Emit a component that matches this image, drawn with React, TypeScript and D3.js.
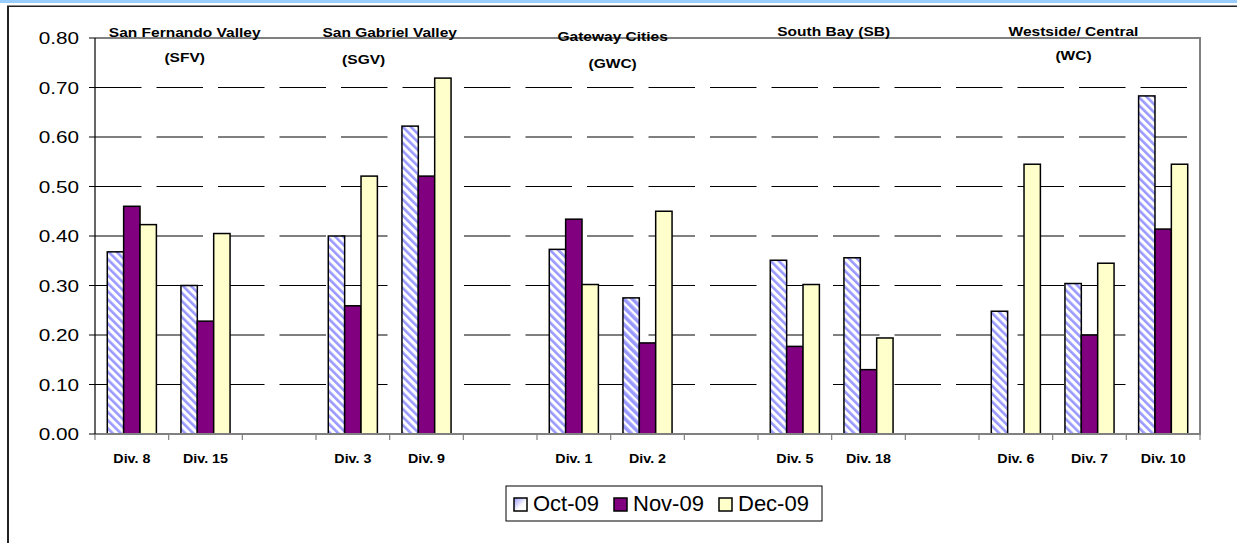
import React from "react";
import * as d3 from "d3";

const slotLabels = ["Div. 8", "Div. 15", "", "Div. 3", "Div. 9", "", "Div. 1", "Div. 2", "", "Div. 5", "Div. 18", "", "Div. 6", "Div. 7", "Div. 10"];
const seriesNames = ["Oct-09", "Nov-09", "Dec-09"];
const octValues = [0.368, 0.30, null, 0.40, 0.622, null, 0.373, 0.275, null, 0.351, 0.356, null, 0.248, 0.304, 0.683];
const novValues = [0.46, 0.228, null, 0.259, 0.521, null, 0.434, 0.184, null, 0.177, 0.13, null, null, 0.20, 0.414];
const decValues = [0.423, 0.405, null, 0.521, 0.719, null, 0.302, 0.45, null, 0.302, 0.194, null, 0.545, 0.345, 0.545];
const yTicks = [0, 0.1, 0.2, 0.3, 0.4, 0.5, 0.6, 0.7, 0.8];
const regionLines = [
  { lines: ["San Fernando Valley", "(SFV)"], slots: [0, 1] },
  { lines: ["San Gabriel Valley", "(SGV)"], slots: [3, 4] },
  { lines: ["Gateway Cities", "(GWC)"], slots: [6, 7] },
  { lines: ["South Bay (SB)"], slots: [9, 10] },
  { lines: ["Westside/ Central", "(WC)"], slots: [12, 14] },
];
const altPatternSlots = ["Div. 2"];

const W = 1237, H = 543;
const plot = { left: 95, right: 1200, top: 38, bottom: 434 };
const colors = ["url(#hatch)", "#800080", "#FFFFCC"];
// per-region label fine placement [dx1, y1, dx2, y2]
const regionPlacement = [
  [16, 36.5, 16, 62],
  [0, 37, -26, 64],
  [2, 40.5, 2, 68],
  [2, 36, 0, 0],
  [-16, 36, -16, 60],
];

export default function App() {
  const idx = slotLabels.map((_, i) => String(i));
  const x = d3.scaleBand<string>().domain(idx).range([plot.left, plot.right]).paddingInner(0).paddingOuter(0);
  const xs = d3.scaleBand<string>().domain(seriesNames).range([0, x.bandwidth()]).paddingInner(0).paddingOuter(0.75);
  const y = d3.scaleLinear().domain([0, 0.8]).range([plot.bottom, plot.top]);
  const fmt = d3.format(".2f");
  const series = [octValues, novValues, decValues];
  const gridStart = plot.left;

  return (
    <svg width={W} height={H} style={{ position: "absolute", left: 0, top: 0, background: "#fff" }} fontFamily="'Liberation Sans', Arial, sans-serif">
      <defs>
        <pattern id="hatch" patternUnits="userSpaceOnUse" width="5.7" height="5.7" patternTransform="rotate(-45)">
          <rect width="5.7" height="5.7" fill="#fff" />
          <rect width="2.6" height="5.7" fill="#9999FF" />
        </pattern>
        <pattern id="hatch2" patternUnits="userSpaceOnUse" width="6" height="6" patternTransform="rotate(-45)">
          <rect width="6" height="6" fill="#fff" />
          <rect width="3.6" height="6" fill="#9999FF" />
        </pattern>
        <linearGradient id="legGrad" x1="0" y1="0" x2="1" y2="1">
          <stop offset="0" stopColor="#9999FF" />
          <stop offset="0.6" stopColor="#fff" />
          <stop offset="1" stopColor="#fff" />
        </linearGradient>
      </defs>
      {/* frame */}
      <rect x={0} y={0} width={W} height={3} fill="#99CCFF" />
      <line x1={7} x2={W} y1={6.3} y2={6.3} stroke="#222" strokeWidth={1.5} />
      <line x1={8} x2={8} y1={6} y2={H} stroke="#222" strokeWidth={2} />

      {/* gridlines */}
      {yTicks.filter(t => t > 0 && t < 0.8).map(t => (
        <line key={"g" + t} x1={gridStart} x2={plot.right} y1={y(t)} y2={y(t)} stroke="#000" strokeWidth={1} strokeDasharray="46.5 15" />
      ))}

      {/* plot border top/right */}
      <line x1={plot.left} x2={plot.right + 1} y1={plot.top} y2={plot.top} stroke="#808080" strokeWidth={2} />
      <line x1={plot.right} x2={plot.right} y1={plot.top} y2={plot.bottom} stroke="#808080" strokeWidth={2} />

      {/* bars */}
      {series.map((vals, s) =>
        vals.map((v, i) => {
          if (v == null) return null;
          const bx = (x(String(i)) as number) + (xs(seriesNames[s]) as number);
          const fill = s === 0 && altPatternSlots.includes(slotLabels[i]) ? "url(#hatch2)" : colors[s];
          return (
            <rect key={s + "-" + i} x={bx} y={y(v)} width={xs.bandwidth()} height={y(0) - y(v)} fill={fill} stroke="#000" strokeWidth={1.5} />
          );
        })
      )}

      {/* axes */}
      <line x1={plot.left} x2={plot.right + 1} y1={plot.bottom} y2={plot.bottom} stroke="#808080" strokeWidth={2} />
      {idx.concat(["end"]).map((d, i) => {
        const tx = i < idx.length ? (x(d) as number) : plot.right;
        return <line key={"xt" + i} x1={tx} x2={tx} y1={plot.bottom} y2={plot.bottom + 6} stroke="#808080" strokeWidth={1.2} />;
      })}
      <line x1={plot.left} x2={plot.left} y1={plot.top} y2={plot.bottom} stroke="#000" strokeWidth={1.2} />
      {yTicks.map(t => (
        <g key={"yt" + t}>
          <line x1={plot.left - 6} x2={plot.left} y1={y(t)} y2={y(t)} stroke="#000" strokeWidth={1} />
          <text transform={`translate(79,${y(t) + 6}) scale(1.22,1)`} textAnchor="end" fontSize={17} fill="#000">{fmt(t)}</text>
        </g>
      ))}

      {/* x labels */}
      {slotLabels.map((l, i) => l ? (
        <text key={"xl" + i} transform={`translate(${(x(String(i)) as number) + x.bandwidth() / 2},462.7) scale(1.1,1)`} textAnchor="middle" fontSize={13} fontWeight="bold">{l}</text>
      ) : null)}

      {/* region labels */}
      {regionLines.map((r, k) => {
        const cx = ((x(String(r.slots[0])) as number) + (x(String(r.slots[r.slots.length - 1])) as number) + x.bandwidth()) / 2;
        const p = regionPlacement[k];
        return (
          <g key={"r" + k}>
            <text transform={`translate(${cx + p[0]},${p[1]}) scale(1.15,1)`} textAnchor="middle" fontSize={13.5} fontWeight="bold">{r.lines[0]}</text>
            {r.lines[1] ? (
              <text transform={`translate(${cx + p[2]},${p[3]}) scale(1.15,1)`} textAnchor="middle" fontSize={13.5} fontWeight="bold">{r.lines[1]}</text>
            ) : null}
          </g>
        );
      })}

      {/* legend */}
      <g>
        <rect x={506} y={486} width={316} height={35} fill="#fff" stroke="#000" strokeWidth={1} />
        {seriesNames.map((n, i) => {
          const lx = [514, 614, 719][i];
          return (
            <g key={"lg" + n}>
              <rect x={lx} y={498} width={13} height={13} fill={i === 0 ? "url(#legGrad)" : colors[i]} stroke="#000" strokeWidth={1.5} />
              <text x={lx + 19} y={511} fontSize={22} fill="#000">{n}</text>
            </g>
          );
        })}
      </g>
    </svg>
  );
}
